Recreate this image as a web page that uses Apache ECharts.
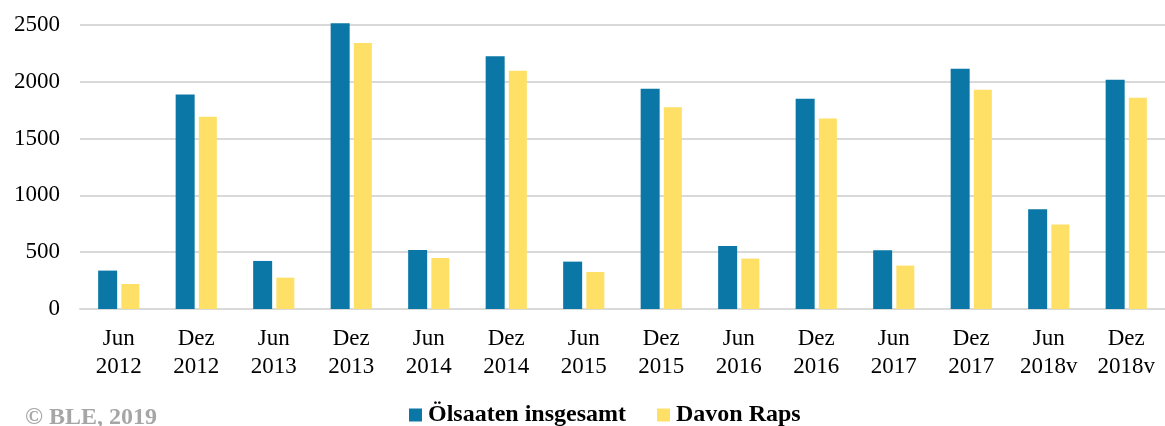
<!DOCTYPE html>
<html>
<head>
<meta charset="utf-8">
<script src="https://cdn.jsdelivr.net/npm/echarts@6/dist/echarts.min.js"></script>
<style>
  html, body { margin: 0; padding: 0; background: #fff; }
  #chart { width: 1165px; height: 426px; }
</style>
</head>
<body>
<div id="chart"></div>
<script>
const categories = [
  'Jun\n2012', 'Dez\n2012', 'Jun\n2013', 'Dez\n2013', 'Jun\n2014', 'Dez\n2014', 'Jun\n2015',
  'Dez\n2015', 'Jun\n2016', 'Dez\n2016', 'Jun\n2017', 'Dez\n2017', 'Jun\n2018v', 'Dez\n2018v'
]
const oelsaaten = [338, 1889, 423, 2515, 520, 2224, 417, 1939, 555, 1851, 517, 2115, 878, 2018]
const raps = [220, 1692, 276, 2341, 449, 2097, 326, 1777, 444, 1677, 382, 1930, 743, 1860]
const seriesNames = ['Ölsaaten insgesamt', 'Davon Raps']

const serif = '"Liberation Serif", "DejaVu Serif", serif'

const chart = echarts.init(document.getElementById('chart'))

const option = {
  animation: false,
  textStyle: { fontFamily: serif },
  grid: {
    left: 80,
    top: 25,
    width: 1096,
    height: 284,
    containLabel: false
  },
  legend: {
    top: 398,
    left: 404,
    itemWidth: 13,
    itemHeight: 13,
    itemGap: 31,
    icon: 'rect',
    textStyle: {
      fontFamily: serif,
      fontSize: 24,
      fontWeight: 'bold',
      color: '#000',
      padding: [0, 0, 0, 1]
    },
    data: seriesNames
  },
  graphic: [
    {
      type: 'text',
      left: 25,
      top: 406,
      style: {
        text: '© BLE, 2019',
        font: 'bold 24px "Liberation Serif", serif',
        fill: '#a6a6a6'
      }
    }
  ],
  xAxis: {
    type: 'category',
    data: categories,
    axisLine: { show: true, lineStyle: { color: '#d9d9d9', width: 2 } },
    axisTick: { show: false },
    axisLabel: {
      color: '#000',
      fontSize: 23,
      lineHeight: 28,
      margin: 16,
      interval: 0
    }
  },
  yAxis: {
    type: 'value',
    min: 0,
    max: 2500,
    interval: 500,
    axisLine: { show: false },
    axisTick: { show: false },
    axisLabel: {
      color: '#000',
      fontSize: 23,
      margin: 20,
      formatter: (v) => String(v)
    },
    splitLine: { lineStyle: { color: '#d9d9d9', width: 2 } }
  },
  series: [
    {
      name: seriesNames[0],
      type: 'bar',
      data: oelsaaten,
      barWidth: 19,
      barGap: '22%',
      clip: false,
      itemStyle: { color: '#0a77a6' }
    },
    {
      name: seriesNames[1],
      type: 'bar',
      data: raps,
      barWidth: 18,
      clip: false,
      itemStyle: { color: '#ffe066' }
    }
  ]
}

chart.setOption(option)
</script>
</body>
</html>
